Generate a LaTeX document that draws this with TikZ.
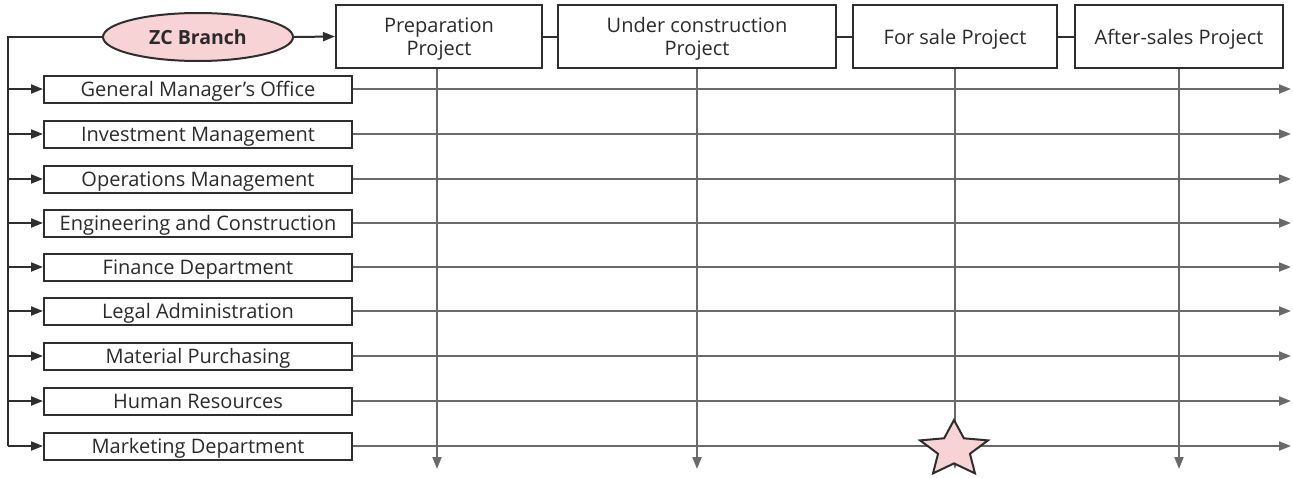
\documentclass[tikz,border=0pt]{standalone}
\usepackage{fontspec}
\setmainfont{Open Sans}
\usetikzlibrary{shapes.geometric,arrows.meta}
\definecolor{linegray}{HTML}{6A6A6A}
\definecolor{boxdark}{HTML}{2E2E2E}
\definecolor{txt}{HTML}{2A2A2A}
\definecolor{pinkfill}{HTML}{F8D3D6}
\begin{document}
\begin{tikzpicture}[x=1pt,y=-1pt,
  dept/.style={draw=boxdark,line width=2pt,minimum width=308pt,minimum height=27pt,inner sep=0pt,text height=18pt,text depth=3.8pt,font=\fontsize{20}{22}\selectfont,text=txt},
  phase/.style={draw=boxdark,line width=2pt,minimum height=63pt,inner sep=0pt},
  phasetext/.style={align=center,inner sep=0pt,font=\fontsize{20}{23}\selectfont,text=txt},
  conn/.style={draw=linegray,line width=2pt},
  arr/.style={conn,-{Triangle[length=12pt,width=9pt]}},
  darr/.style={draw=boxdark,line width=2pt,-{Triangle[length=12pt,width=9pt]}}]
\useasboundingbox (0,0) rectangle (1293,477);
% ellipse
\node[ellipse,draw=boxdark,line width=2pt,fill=pinkfill,minimum width=190pt,minimum height=48pt,inner sep=0pt,font=\bfseries\fontsize{19.5}{22}\selectfont,text=txt] (zc) at (198,37) {ZC Branch};
% phase boxes
\node[phase,minimum width=206pt] (p1) at (439,36.5) {};
\node[phase,minimum width=278pt] (p2) at (697,36.5) {};
\node[phase,minimum width=204pt] (p3) at (955,36.5) {};
\node[phase,minimum width=208pt] (p4) at (1179,36.5) {};
\node[phasetext] (p1t) at (439,39) {Preparation\\Project};
\node[phasetext] (p2t) at (697,39) {Under construction\\Project};
\node[phasetext] (p3t) at (955,39) {For sale Project};
\node[phasetext] (p4t) at (1179,39) {After-sales Project};
\draw[darr] (zc.east) -- (p1.west);
\draw[boxdark,line width=2pt] (p1.east) -- (p2.west);
\draw[boxdark,line width=2pt] (p2.east) -- (p3.west);
\draw[boxdark,line width=2pt] (p3.east) -- (p4.west);
% departments
\foreach \n/\y/\t in {d1/89/General Manager's Office,d2/134/Investment Management,d3/179/Operations Management,d4/223/Engineering and Construction,d5/267/Finance Department,d6/311/Legal Administration,d7/356/Material Purchasing,d8/401/Human Resources,d9/446/Marketing Department}{
  \node[dept] (\n) at (198,\y) {\t};
  \coordinate (\n l) at (8,\y);
  \coordinate (\n r) at (1291,\y);
}
% vertical bus
\draw[boxdark,line width=2pt] (zc.west) -- (8,37) -- (d9l);
\foreach \n in {d1,d2,d3,d4,d5,d6,d7,d8,d9}{
  \draw[darr] (\n l) -- (\n.west);
  \draw[arr] (\n.east) -- (\n r);
}
% vertical project lines
\foreach \p/\x in {p1/437,p2/697,p3/955,p4/1179}{
  \coordinate (\p b) at (\x,469);
  \draw[arr] (\p.south -| \p b) -- (\p b);
}
% star (horizontally stretched)
\begin{scope}[shift={(954,449.5)}]
\draw[draw=boxdark,line width=2pt,line join=miter,fill=pinkfill]
  ({35.7*cos(90)},{-29.5*sin(90)})
  \foreach \k in {0,...,4}{
    -- ({35.7*0.47*cos(126+72*\k)},{-29.5*0.47*sin(126+72*\k)})
    -- ({35.7*cos(162+72*\k)},{-29.5*sin(162+72*\k)})
  } -- cycle;
\end{scope}
\end{tikzpicture}
\end{document}
